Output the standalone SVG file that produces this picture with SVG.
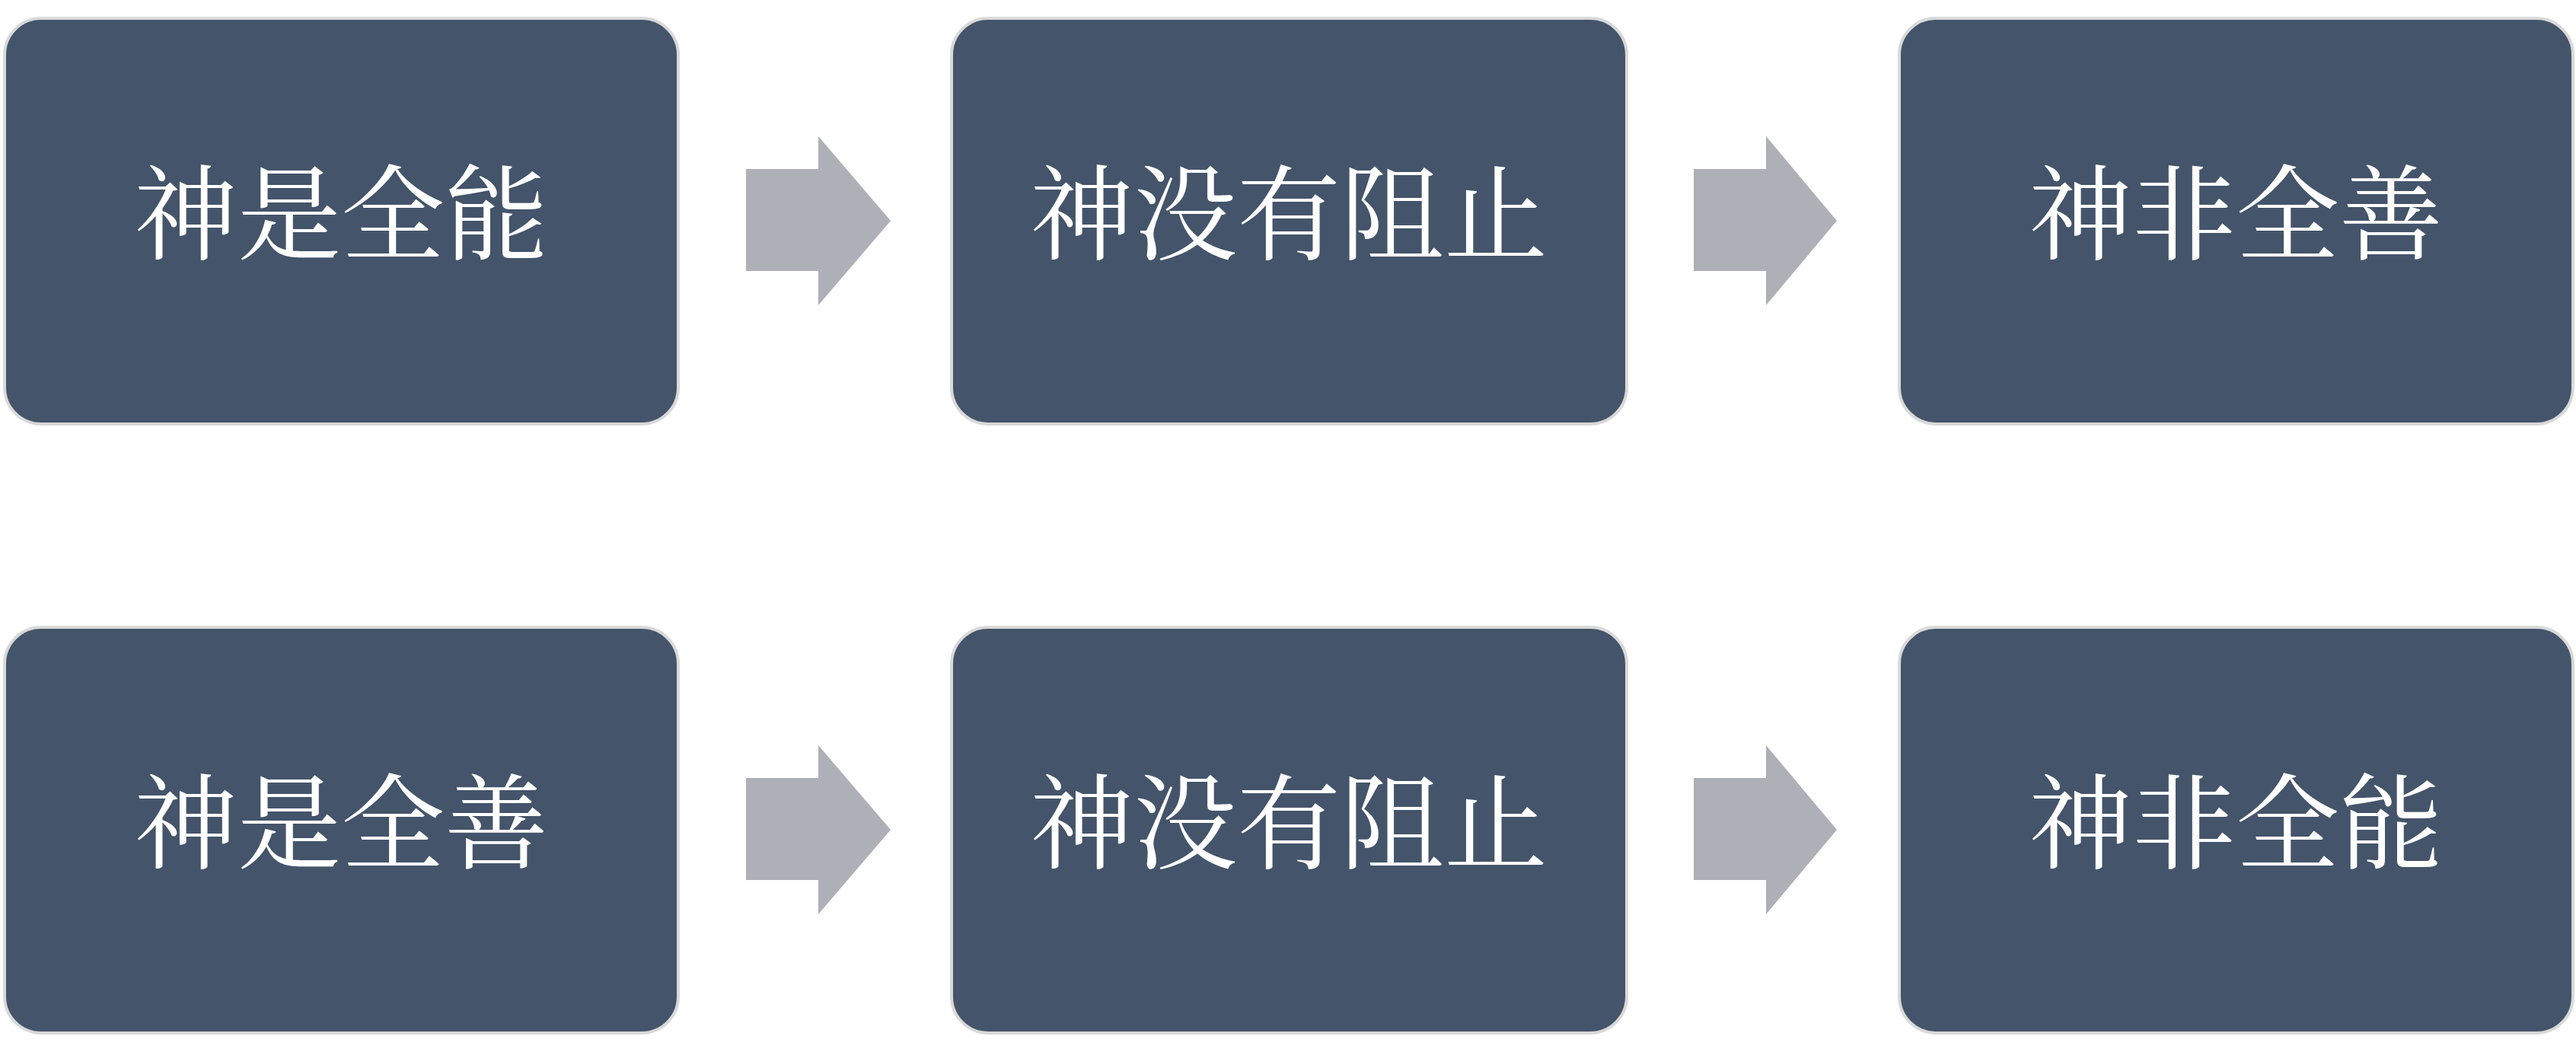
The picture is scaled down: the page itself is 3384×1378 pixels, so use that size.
<svg xmlns="http://www.w3.org/2000/svg" width="3384" height="1378" viewBox="0 0 3384 1378">
<style>
.b{fill:#44546A;stroke:#D9D9D9;stroke-width:4}
.t{fill:#fff;font-family:"Noto Serif CJK SC","Noto Sans CJK SC",serif;font-size:136px;text-anchor:middle;dominant-baseline:central}
.a{fill:#ADB0B7}
</style>
<rect width="3384" height="1378" fill="#fff"/>
<g id="n1"><rect class="b" x="6" y="24" width="885" height="533" rx="48"/><text class="t" x="448" y="272">神是全能</text></g>
<g id="n2"><rect class="b" x="1250" y="24" width="887" height="533" rx="48"/><text class="t" x="1693" y="272">神没有阻止</text></g>
<g id="n3"><rect class="b" x="2495" y="24" width="885" height="533" rx="48"/><text class="t" x="2937" y="272">神非全善</text></g>
<g id="n4"><rect class="b" x="6" y="824" width="885" height="533" rx="48"/><text class="t" x="448" y="1072">神是全善</text></g>
<g id="n5"><rect class="b" x="1250" y="824" width="887" height="533" rx="48"/><text class="t" x="1693" y="1072">神没有阻止</text></g>
<g id="n6"><rect class="b" x="2495" y="824" width="885" height="533" rx="48"/><text class="t" x="2937" y="1072">神非全能</text></g>
<g id="connectors">
<polygon class="a" points="980,222 1075,222 1075,179 1170,290 1075,401 1075,356 980,356"/>
<polygon class="a" points="2225,222 2320,222 2320,179 2413,290 2320,401 2320,356 2225,356"/>
<polygon class="a" points="980,1022 1075,1022 1075,979 1170,1090 1075,1201 1075,1156 980,1156"/>
<polygon class="a" points="2225,1022 2320,1022 2320,979 2413,1090 2320,1201 2320,1156 2225,1156"/>
</g>
</svg>
